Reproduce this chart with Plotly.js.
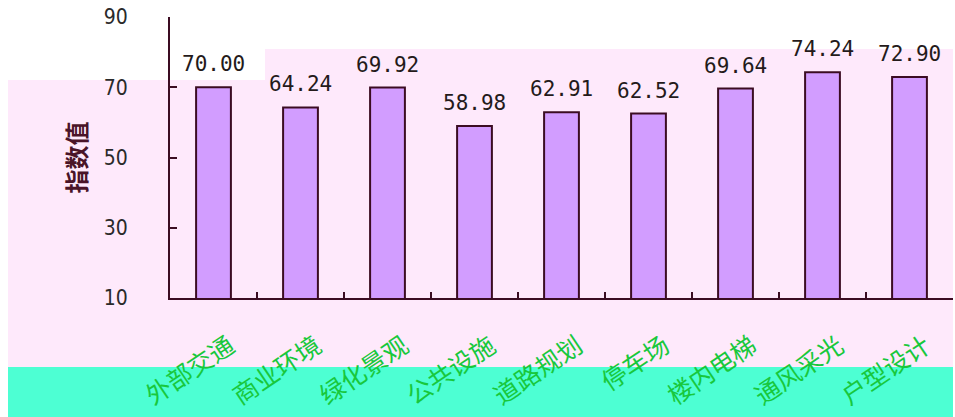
<!DOCTYPE html>
<html>
<head>
<meta charset="utf-8">
<script src="https://cdn.plot.ly/plotly-3.0.1.min.js"></script>
<style>html,body{margin:0;padding:0;background:#fff}#chart{width:955px;height:417px}</style>
</head>
<body>
<div id="chart"></div>
<script>
const categories = ['外部交通', '商业环境', '绿化景观', '公共设施', '道路规划', '停车场', '楼内电梯', '通风采光', '户型设计'];
const values = [70.00, 64.24, 69.92, 58.98, 62.91, 62.52, 69.64, 74.24, 72.90];
const yTicks = [10, 30, 50, 70, 90];
const yTitle = '指数值';

const W = 955, H = 417;
const L = 170, R = 2, T = 17, B = 119;
const pw = W - L - R, ph = H - T - B;
const px = v => (v - L) / pw;
const py = v => (H - B - v) / ph;

const dark = '#3b0c22';

const pinkPath = `M ${px(8)} ${py(80)} L ${px(265)} ${py(80)} L ${px(265)} ${py(49)} L ${px(953)} ${py(49)} L ${px(953)} ${py(367)} L ${px(8)} ${py(367)} Z`;

const shapes = [
  {type: 'path', xref: 'paper', yref: 'paper', path: pinkPath, fillcolor: '#fee9fb', line: {width: 0}, layer: 'below'},
  {type: 'rect', xref: 'paper', yref: 'paper', x0: px(8), x1: px(953), y0: py(417), y1: py(367), fillcolor: '#4dffd3', line: {width: 0}, layer: 'below'}
];

const annotations = categories.map((c, i) => ({
  x: c, y: values[i], xref: 'x', yref: 'y',
  text: values[i].toFixed(2), showarrow: false,
  yanchor: 'bottom', yshift: 9,
  font: {family: 'DejaVu Sans Mono, monospace', size: 21, color: '#241a1a'}
}));

const trace = {
  type: 'bar', x: categories, y: values, width: 0.4,
  marker: {color: '#d29dff', line: {color: dark, width: 2}},
  hoverinfo: 'skip'
};

const layout = {
  width: W, height: H,
  margin: {l: L, r: R, t: T, b: B},
  paper_bgcolor: '#ffffff', plot_bgcolor: 'rgba(0,0,0,0)',
  showlegend: false,
  shapes: shapes,
  annotations: annotations,
  xaxis: {
    type: 'category', showline: true, linecolor: dark, linewidth: 2,
    ticks: 'inside', tickson: 'boundaries', ticklen: 6, tickcolor: dark, tickwidth: 2,
    showgrid: false, zeroline: false, tickangle: -34,
    ticklabelstandoff: 22, ticklabelshift: 16,
    tickfont: {family: 'Noto Sans CJK SC', size: 25, color: '#18c83c'}
  },
  yaxis: {
    range: [10, 90], tickvals: yTicks, ticktext: yTicks.map(String),
    showline: true, linecolor: dark, linewidth: 2,
    ticks: 'inside', ticklen: 7, tickcolor: dark, tickwidth: 2,
    showgrid: false, zeroline: false,
    ticklabelstandoff: 36,
    tickfont: {family: 'DejaVu Sans Condensed, DejaVu Sans, sans-serif', size: 21, color: '#2a2a2a'},
    title: {text: yTitle, font: {family: 'Noto Sans CJK SC', size: 24, color: '#4a1428', weight: 'bold'}, standoff: 10}
  }
};

Plotly.newPlot('chart', [trace], layout, {staticPlot: true, displayModeBar: false});
</script>
</body>
</html>
